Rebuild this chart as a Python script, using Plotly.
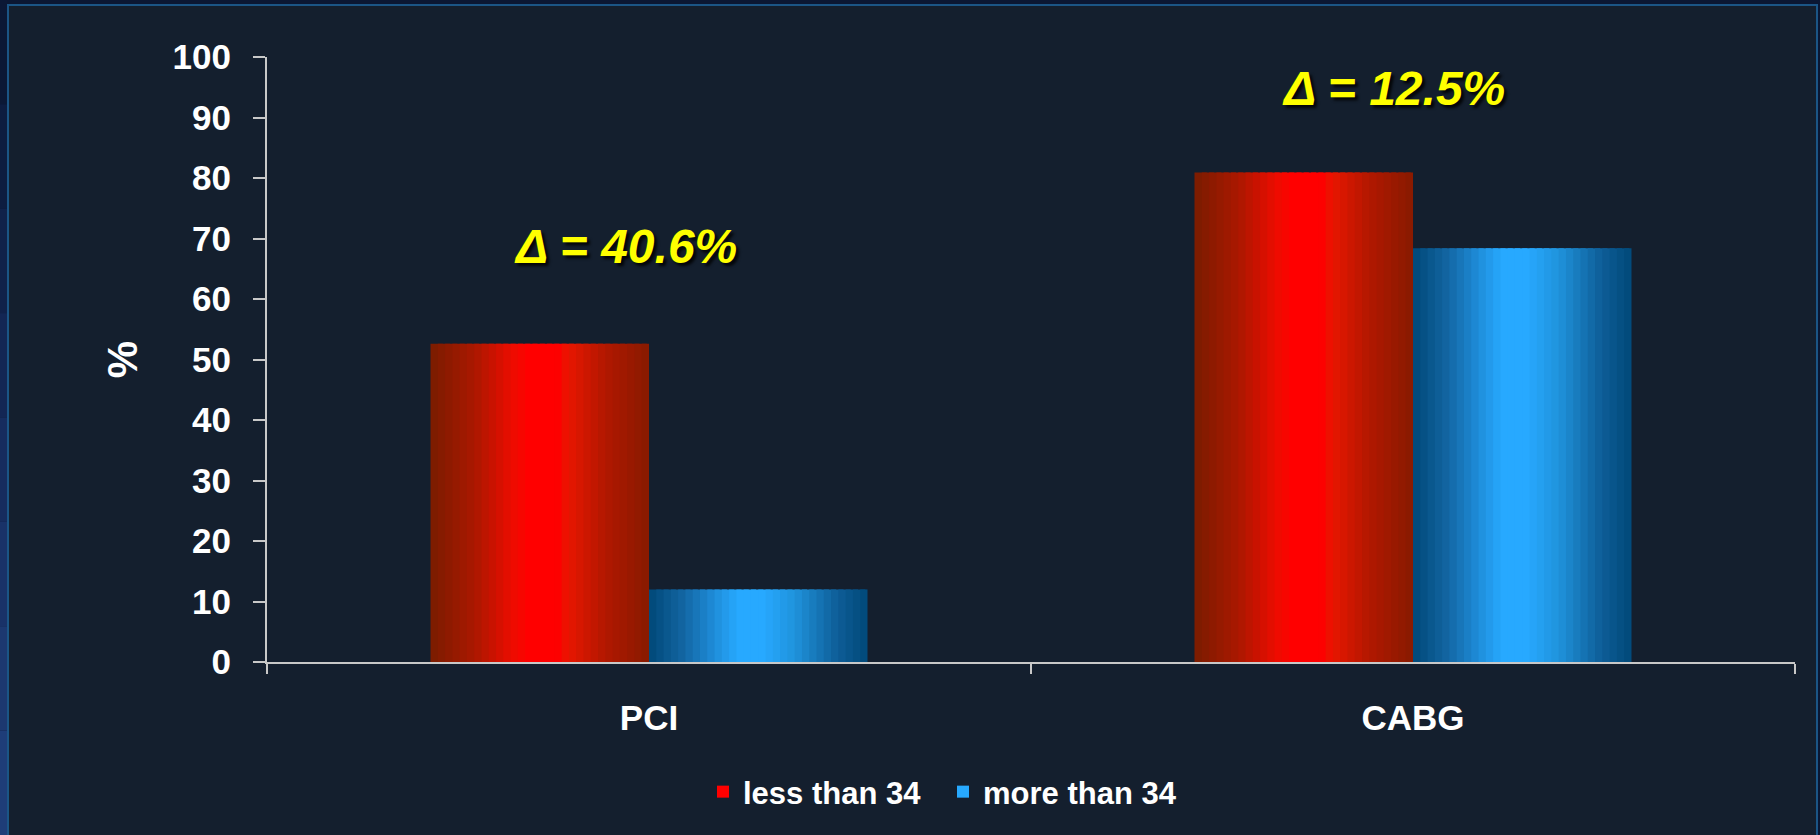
import plotly.graph_objects as go

# ---- data ----
categories = ["PCI", "CABG"]
less_than_34 = [52.6, 80.9]
more_than_34 = [12.0, 68.4]
series_names = ["less than 34", "more than 34"]
delta_labels = ["\u0394 = 40.6%", "\u0394 = 12.5%"]
y_ticks = [0, 10, 20, 30, 40, 50, 60, 70, 80, 90, 100]

# ---- styling ----
W, H = 1820, 835
ML, MR, MT, MB = 267, 25, 57, 173
PW, PH = W - ML - MR, H - MT - MB
FONT = "Liberation Sans, Arial, sans-serif"
BAR_W = 0.286          # width of one bar in category units
N_SLICES = 30          # vertical stripes used to mimic the gradient fill

red_stops = [(0.0, (122, 28, 0)), (0.2, (170, 24, 0)), (0.38, (238, 12, 0)),
             (0.45, (255, 0, 0)), (0.58, (255, 0, 0)), (0.63, (232, 22, 0)),
             (0.8, (178, 24, 0)), (1.0, (135, 26, 0))]
blue_stops = [(0.0, (0, 72, 120)), (0.15, (18, 100, 160)), (0.34, (34, 152, 232)),
              (0.41, (39, 169, 255)), (0.52, (39, 169, 255)), (0.66, (32, 148, 222)),
              (0.86, (14, 94, 152)), (1.0, (0, 72, 120))]


def interp(stops, t):
    for (t0, c0), (t1, c1) in zip(stops[:-1], stops[1:]):
        if t0 <= t <= t1:
            f = 0 if t1 == t0 else (t - t0) / (t1 - t0)
            c = [round(a + (b - a) * f) for a, b in zip(c0, c1)]
            return f"rgb({c[0]},{c[1]},{c[2]})"
    c = stops[-1][1]
    return f"rgb({c[0]},{c[1]},{c[2]})"


def px_x(p):
    return (p - ML) / PW


def px_y(p):
    return (H - MB - p) / PH


fig = go.Figure()

for s_idx, (name, vals, stops) in enumerate(
        [(series_names[0], less_than_34, red_stops),
         (series_names[1], more_than_34, blue_stops)]):
    base_off = -BAR_W if s_idx == 0 else 0.0
    sw = BAR_W / N_SLICES
    for i in range(N_SLICES):
        t = (i + 0.5) / N_SLICES
        wdt = sw if i == N_SLICES - 1 else sw * 1.7
        fig.add_trace(go.Bar(
            x=categories, y=vals, name=name,
            width=wdt, offset=base_off + i * sw,
            marker=dict(color=interp(stops, t), line=dict(width=0)),
            legendgroup=name, showlegend=(i == N_SLICES // 2),
            legendrank=s_idx + 1,
            hoverinfo="skip" if i != N_SLICES // 2 else None,
        ))

# frame / background shapes
shapes = [
    dict(type="rect", xref="paper", yref="paper", layer="below",
         x0=px_x(8), x1=px_x(1817), y0=px_y(845), y1=px_y(5),
         fillcolor="#141f2e", line=dict(color="#1b5586", width=2)),
]
left_cols = ["#0b1836", "#0d1c40", "#10214a", "#132654", "#162c5e",
             "#193268", "#1c3870", "#1e3d78"]
seg = 835 / len(left_cols)
for k, c in enumerate(left_cols):
    shapes.append(dict(type="rect", xref="paper", yref="paper", layer="below",
                       x0=px_x(0), x1=px_x(7),
                       y0=px_y((k + 1) * seg), y1=px_y(k * seg),
                       fillcolor=c, line=dict(width=0)))

ann_font = dict(family=FONT, size=48, color="#ffff00", weight="bold",
                style="italic", shadow="3px 3px 3px rgba(0,0,0,0.85)")
annotations = [
    dict(text=delta_labels[0], xref="paper", yref="paper",
         x=px_x(625), y=px_y(247), xanchor="center", yanchor="middle",
         showarrow=False, font=ann_font),
    dict(text=delta_labels[1], xref="paper", yref="paper",
         x=px_x(1393), y=px_y(88), xanchor="center", yanchor="middle",
         showarrow=False, font=ann_font),
]

fig.update_layout(
    width=W, height=H,
    margin=dict(l=ML, r=MR, t=MT, b=MB, autoexpand=False),
    paper_bgcolor="#0b1733",
    plot_bgcolor="rgba(0,0,0,0)",
    barmode="overlay",
    font=dict(family=FONT, color="white"),
    shapes=shapes,
    annotations=annotations,
    showlegend=True,
    legend=dict(orientation="h", x=px_x(703), y=px_y(792),
                xanchor="left", yanchor="middle",
                bgcolor="rgba(0,0,0,0)",
                entrywidth=195, entrywidthmode="pixels",
                font=dict(family=FONT, size=31, color="white", weight="bold"),
                itemclick=False, itemdoubleclick=False),
    xaxis=dict(
        type="category", range=[-0.5, 1.5],
        showgrid=False, zeroline=False,
        showline=True, linecolor="#c8c8c8", linewidth=2,
        ticks="outside", tickson="boundaries", ticklen=10, tickwidth=2,
        tickcolor="#c8c8c8",
        tickfont=dict(family=FONT, size=35, color="white", weight="bold"),
        ticklabelstandoff=24,
    ),
    yaxis=dict(
        range=[0, 100], tickvals=y_ticks,
        showgrid=False, zeroline=False,
        showline=True, linecolor="#c8c8c8", linewidth=2,
        ticks="outside", ticklen=12, tickwidth=2, tickcolor="#c8c8c8",
        tickfont=dict(family=FONT, size=35, color="white", weight="bold"),
        ticklabelstandoff=15,
        title=dict(text="%", standoff=22,
                   font=dict(family=FONT, size=42, color="white", weight="bold")),
    ),
)

fig.write_html("out.html")
